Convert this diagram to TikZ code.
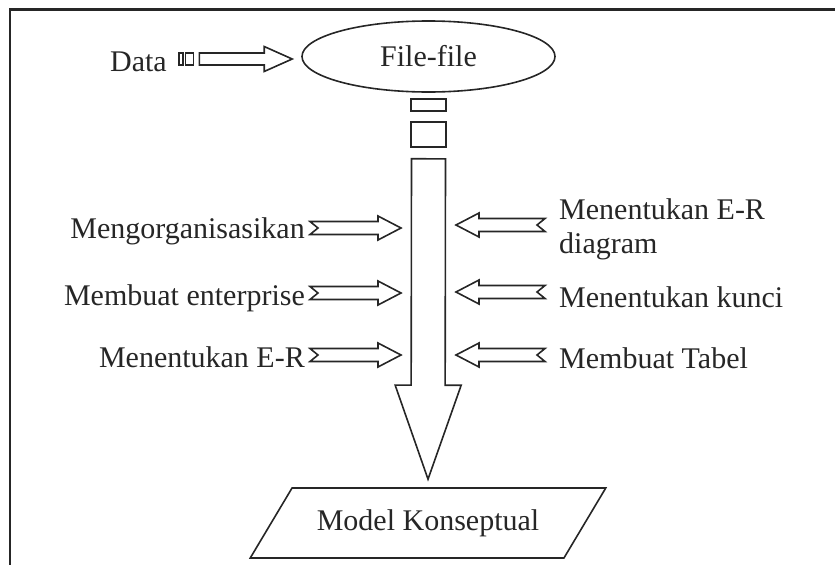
\documentclass[tikz,border=0pt]{standalone}
\usepackage{fontspec}
\setmainfont{Liberation Serif}
\usepackage{tikz}
\usetikzlibrary{calc,shapes.geometric}
\definecolor{ink}{HTML}{262626}
\tikzset{
  lbl/.style={font=\fontsize{30}{34}\selectfont, text=ink, inner sep=0pt},
  seg/.style={draw=ink, line width=1.6pt, inner sep=0pt, minimum width=#1},
  % block arrow: shaft half width, head half width, head length, tail notch
  fat/.style n args={4}{draw=ink, line width=1.6pt, line join=miter,
    to path={let \p1=($(\tikztostart)!#1!90:(\tikztotarget)$),
                 \p2=($(\tikztostart)!#1!-90:(\tikztotarget)$),
                 \p3=($(\tikztotarget)!#3!(\tikztostart)$),
                 \p4=($(\tikztostart)!#4!(\tikztotarget)$),
                 \p5=($(\p3)!#1!90:(\tikztotarget)$),
                 \p6=($(\p3)!#1!-90:(\tikztotarget)$),
                 \p7=($(\p3)!#2!90:(\tikztotarget)$),
                 \p8=($(\p3)!#2!-90:(\tikztotarget)$) in
      (\p1) -- (\p5) -- (\p7) -- (\tikztotarget) -- (\p8) -- (\p6)
      -- (\p2) -- (\p4) -- cycle}},
}

\begin{document}
\begin{tikzpicture}[x=1pt, y=-1pt]
\useasboundingbox (0,0) rectangle (835,565);
\draw[draw=ink, line width=2.2pt] (835,9.5) -- (10,9.5) -- (10,565);

% ------------------------- input ----------------------------------------
\node[lbl, anchor=base east] (data) at (167,71) {Data};
\node[seg=4.5pt, minimum height=12pt] (sq1) at (181,59) {};
\node[seg=8pt, minimum height=12pt] (sq2) at (189.5,59) {};
\node[lbl, draw=ink, line width=1.6pt, ellipse, minimum width=253pt,
      minimum height=71pt] (file) at (428.5,56.5) {File-file};
\draw[fat={6pt}{12.5pt}{28pt}{0pt}] ([xshift=5pt]sq2.east)
   to ([xshift=-9pt]file.west |- sq2.east);

% ------------------------- main arrow -----------------------------------
\node[seg=35pt, minimum height=12pt] (r1) at (428.5,105) {};
\node[seg=35pt, minimum height=25pt] (r2) at (428.5,134.5) {};
\node[lbl, draw=ink, line width=1.6pt, trapezium, trapezium left angle=38.5,
      trapezium right angle=141.5, trapezium stretches=true,
      minimum width=356pt, minimum height=70pt] (model) at (428,523)
   {Model Konseptual};
\draw[fat={17pt}{33pt}{94pt}{0pt}] ([yshift=-11pt]r2.south)
   to ([yshift=8pt]model.north);

% ------------------------- steps ----------------------------------------
\node[lbl, anchor=base east] (org) at (305,238) {Mengorganisasikan};
\node[lbl, anchor=base east] (ent) at (305,305) {Membuat enterprise};
\node[lbl, anchor=base east] (erl) at (305,367) {Menentukan E-R};
\node[lbl, anchor=west, align=left] (erd) at (559,229)
   {Menentukan E-R\\diagram};
\node[lbl, anchor=base west] (key) at (559,307) {Menentukan kunci};
\node[lbl, anchor=base west] (tab) at (559,368) {Membuat Tabel};

\foreach \n/\dy in {org/10,ent/12,erl/12}{
  \coordinate (\n-t) at ([shift={(5pt,\dy pt)}]\n.base east);
  \draw[fat={6.5pt}{12pt}{23pt}{8pt}] (\n-t) to ([xshift=-27.5pt]r1.center |- \n-t);}
\foreach \n/\a/\dy in {erd/west/4,key/base west/15,tab/base west/13}{
  \coordinate (\n-t) at ([shift={(-14pt,\dy pt)}]\n.\a);
  \draw[fat={6.5pt}{12pt}{23pt}{8pt}] (\n-t) to ([xshift=27.5pt]r1.center |- \n-t);}
\end{tikzpicture}
\end{document}
